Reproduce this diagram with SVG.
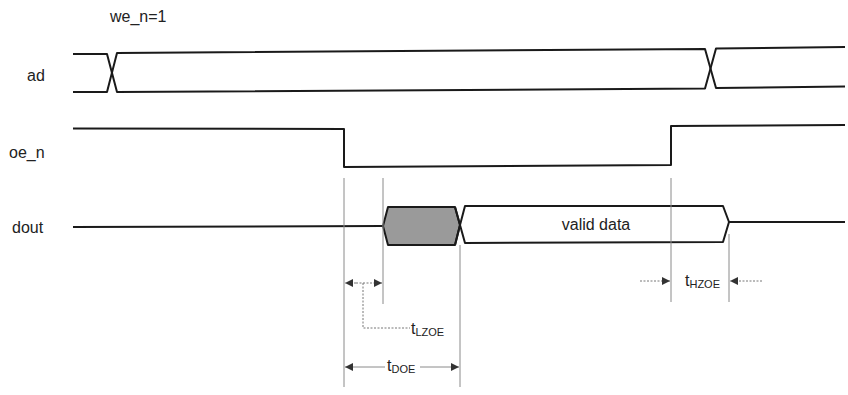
<svg xmlns="http://www.w3.org/2000/svg" width="848" height="395" viewBox="0 0 848 395">
<style>
text{font-family:"Liberation Sans",Arial,sans-serif;font-size:16px;fill:#222}
.sub{font-size:11px}
.sig{fill:none;stroke:#1a1a1a;stroke-width:2;stroke-linejoin:round}
.shade{fill:#9a9a9a;stroke:#1a1a1a;stroke-width:2;stroke-linejoin:round}
.guide{fill:none;stroke:#8a8a8a;stroke-width:1}
.dot{fill:none;stroke:#777;stroke-width:1;stroke-dasharray:2,1.5}
</style>
<defs>
<marker id="ah" viewBox="0 0 10 10" refX="10" refY="5" markerWidth="12" markerHeight="8" markerUnits="userSpaceOnUse" orient="auto">
<path d="M0,0 L10,5 L0,10 Z" fill="#333"/>
</marker>
</defs>
<g id="labels">
<text x="110" y="22">we_n=1</text>
<text x="27" y="81">ad</text>
<text x="9" y="158">oe_n</text>
<text x="12" y="233">dout</text>
</g>
<g id="ad">
<path class="sig" d="M73,54 L107,54 L117,92 L705,88.5 L716,48.5 L845,47"/>
<path class="sig" d="M73,92 L107,92 L117,53 L705,49 L716,88 L845,86.5"/>
</g>
<g id="oe_n">
<path class="sig" d="M73,128.5 L344,129 L344,167 L671,165 L671,126 L845,125"/>
</g>
<g id="dout">
<path class="sig" d="M73,227 L383,226"/>
<path class="shade" d="M383,226 L388,207 L455,207 L460,225 L455,245 L388,245 Z"/>
<path class="sig" d="M455,207 L460,225 L465,206 L723,206 L729,222 L723,242 L465,243 L460,225 L455,245"/>
<path class="sig" d="M729,222 L845,222"/>
<text x="596" y="230" text-anchor="middle">valid data</text>
</g>
<g id="connectors">
<line class="guide" x1="344" y1="178" x2="344" y2="387"/>
<line class="guide" x1="383" y1="178" x2="383" y2="304"/>
<line class="guide" x1="460" y1="245" x2="460" y2="387"/>
<line class="guide" x1="671" y1="178" x2="671" y2="302"/>
<line class="guide" x1="729" y1="234" x2="729" y2="302"/>
<line class="dot" x1="356" y1="283" x2="345" y2="283" marker-end="url(#ah)"/>
<line class="dot" x1="370" y1="283" x2="382" y2="283" marker-end="url(#ah)"/>
<line class="dot" x1="356" y1="283" x2="370" y2="283"/>
<path class="dot" d="M363,283 L363,328 L410,328"/>
<line class="guide" x1="385" y1="367" x2="345" y2="367" marker-end="url(#ah)"/>
<line class="guide" x1="420" y1="367" x2="459" y2="367" marker-end="url(#ah)"/>
<line class="dot" x1="640" y1="281" x2="670" y2="281" marker-end="url(#ah)"/>
<line class="dot" x1="762" y1="281" x2="730" y2="281" marker-end="url(#ah)"/>
</g>
<g id="timing-labels">
<text x="411" y="334">t<tspan class="sub" dy="2">LZOE</tspan></text>
<text x="387" y="371">t<tspan class="sub" dy="2">DOE</tspan></text>
<text x="685" y="286">t<tspan class="sub" dy="2">HZOE</tspan></text>
</g>
</svg>
